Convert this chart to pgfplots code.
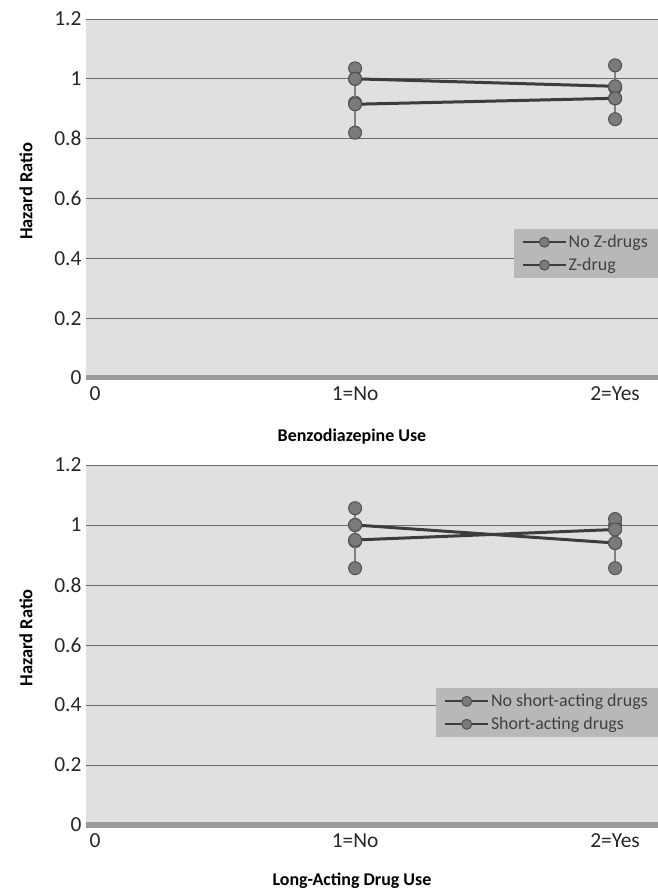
\documentclass[border=0pt]{standalone}
\usepackage{fontspec}
\setmainfont{Carlito}
\usepackage{pgfplots}
\usepackage{pgfplotstable}
\pgfplotsset{compat=1.18}
\definecolor{bgc}{HTML}{E0E0E0}
\definecolor{legc}{HTML}{B8B8B8}
\definecolor{gridc}{HTML}{6A6A6A}
\definecolor{bandc}{HTML}{9A9A9A}
\definecolor{linec}{HTML}{3C3C3C}
\definecolor{markc}{HTML}{7A7A7A}
\definecolor{markd}{HTML}{505050}
\definecolor{errc}{HTML}{808080}

% x  y  minus  plus
\pgfplotstableread{
x y lo hi
1 1.000 0.080 0.035
2 0.975 0.040 0.070
}\topA
\pgfplotstableread{
x y lo hi
1 0.915 0.095 0.085
2 0.935 0.070 0.035
}\topB
\pgfplotstableread{
x y lo hi
1 1.000 0.054 0.056
2 0.940 0.084 0.060
}\botA
\pgfplotstableread{
x y lo hi
1 0.950 0.094 0.050
2 0.985 0.045 0.035
}\botB

\pgfplotsset{
  hrstyle/.style={
    scale only axis, width=572bp,
    xmin=-0.035, xmax=2.165, ymin=0, ymax=1.2,
    xtick={0,1,2}, xticklabels={0,1=No,2=Yes},
    ytick={0,0.2,0.4,0.6,0.8,1,1.2},
    /pgf/number format/fixed, /pgf/number format/precision=1,
    /pgf/number format/assume math mode=true,
    tick label style={font=\fontsize{21.5}{25}\selectfont, text=black!85},
    xticklabel style={yshift=-5bp},
    yticklabel style={xshift=-1bp},
    major tick length=0pt,
    axis line style={draw=none},
    ymajorgrids, grid style={gridc, line width=0.9bp},
    axis background/.style={fill=bgc},
    clip=false,
    ylabel style={at={(axis description cs:-0.105,0.52)}, anchor=center, rotate=0,
      font=\fontsize{18.5}{22}\selectfont\bfseries},
    xlabel style={font=\fontsize{18}{22}\selectfont\bfseries},
    legend cell align=left,
    legend style={anchor=north east, fill=legc, draw=none,
      font=\fontsize{18}{21}\selectfont, text=black!75,
      inner xsep=8bp, inner ysep=4bp, row sep=5bp},
    legend image code/.code={\draw[mark repeat=2,mark phase=2,#1, line width=2bp, mark size=5bp]
      plot coordinates {(0cm,0cm) (0.75cm,0cm) (1.5cm,0cm)};},
  },
  ser/.style={draw=linec, line width=3bp, mark=*, mark size=6.5bp,
    mark options={fill=markc, draw=markd, line width=1bp},
    error bars/.cd, y dir=both, y explicit,
    error bar style={line width=2.4bp, errc},
    error mark=*, error mark options={mark size=6.5bp, fill=markc, draw=markd, line width=1bp}},
}

\begin{document}
\begin{tikzpicture}
\path[use as bounding box] (0,0) rectangle (658bp,892bp);

\begin{axis}[hrstyle, height=359bp, at={(86bp,514bp)}, anchor=south west,
  ylabel={Hazard Ratio}, xlabel={Benzodiazepine Use},
  xlabel style={at={(axis description cs:0.465,-0.164)}, anchor=center},
  legend style={at={(1.0,0.415)}}]
\draw[line width=5bp, bandc] (axis cs:-0.035,0) -- (axis cs:2.165,0);
\addplot+[ser] table[x=x, y=y, y error plus=hi, y error minus=lo] {\topA};
\addlegendentry{No Z-drugs}
\addplot+[ser] table[x=x, y=y, y error plus=hi, y error minus=lo] {\topB};
\addlegendentry{Z-drug}
\end{axis}

\begin{axis}[hrstyle, height=360bp, at={(86bp,67bp)}, anchor=south west,
  ylabel={Hazard Ratio}, xlabel={Long-Acting Drug Use},
  xlabel style={at={(axis description cs:0.465,-0.155)}, anchor=center},
  legend style={at={(1.0,0.38)}}]
\draw[line width=5bp, bandc] (axis cs:-0.035,0) -- (axis cs:2.165,0);
\addplot+[ser] table[x=x, y=y, y error plus=hi, y error minus=lo] {\botA};
\addlegendentry{No short-acting drugs}
\addplot+[ser] table[x=x, y=y, y error plus=hi, y error minus=lo] {\botB};
\addlegendentry{Short-acting drugs}
\end{axis}
\end{tikzpicture}
\end{document}
